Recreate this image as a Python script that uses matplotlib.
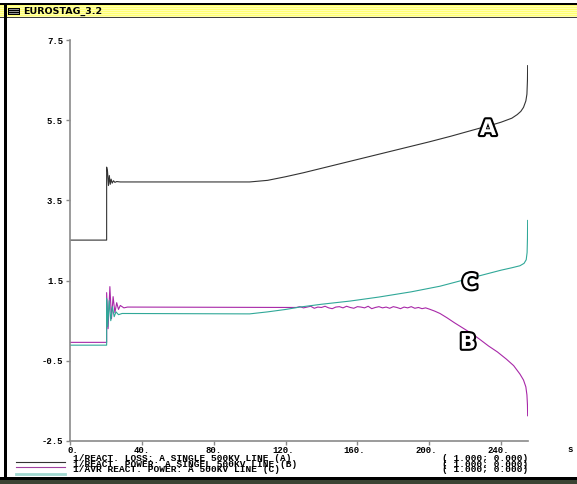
import matplotlib
matplotlib.use("Agg")
import matplotlib.pyplot as plt
import matplotlib.patheffects as pe
from matplotlib.patches import Rectangle
from matplotlib.lines import Line2D

W, H = 577, 485

# reactive loss of the line (A)
t_a = [0, 20.4, 20.4, 20.9, 21.4, 21.9, 22.4, 22.9, 23.5, 24.2, 25.0, 26.0,
       28.0, 100, 110, 120, 130, 140, 150, 160, 170, 180, 190, 200, 206,
       212, 220, 228, 234, 240, 246, 249, 251, 252.5, 253.8, 254.4, 254.7,
       254.8]
v_a = [2.51, 2.51, 4.33, 4.22, 3.87, 4.12, 3.90, 4.03, 3.93, 3.99, 3.95,
       3.97, 3.96, 3.96, 4.00, 4.09, 4.19, 4.30, 4.41, 4.52, 4.63, 4.74,
       4.85, 4.96, 5.03, 5.10, 5.20, 5.30, 5.37, 5.45, 5.55, 5.64, 5.72,
       5.82, 5.98, 6.15, 6.50, 6.86]

# reactive power of the single line (B)
t_b = [0, 20.4, 20.4, 21.2, 22.2, 23.1, 24.0, 25.0, 26.0, 27.0, 28.0, 30.0,
       32.0, 124,
       126, 128, 130, 132, 134, 136, 138, 140, 142, 144, 146, 148, 150, 152,
       154, 156, 158, 160, 162, 164, 166, 168, 170, 172, 174, 176, 178, 180,
       182, 184, 186, 188, 190, 192, 194, 196, 198, 200,
       203, 206, 210, 214, 219, 224, 228, 233, 238, 243, 247, 250.5, 252.5,
       253.8, 254.4, 254.7, 254.8]
v_b = [-0.04, -0.04, 1.20, 0.30, 1.35, 0.55, 1.10, 0.70, 0.95, 0.78, 0.88,
       0.82, 0.84, 0.83,
       0.83, 0.85, 0.82, 0.84, 0.86, 0.81, 0.84, 0.83, 0.86, 0.82, 0.80,
       0.84, 0.85, 0.82, 0.86, 0.83, 0.81, 0.85, 0.84, 0.82, 0.86, 0.80,
       0.83, 0.85, 0.82, 0.84, 0.81, 0.85, 0.83, 0.80, 0.84, 0.82, 0.85,
       0.81, 0.83, 0.80, 0.82, 0.79,
       0.74, 0.68, 0.57, 0.45, 0.31, 0.17, 0.04, -0.13, -0.28, -0.46, -0.62,
       -0.83, -0.98, -1.15, -1.35, -1.60, -1.87]

# AVR reactive power (C)
t_c = [0, 20.4, 20.4, 21.0, 21.8, 22.7, 23.6, 24.6, 25.6, 27.0, 29.0, 100,
       110, 120, 128, 140, 156, 172, 190, 206, 217, 228, 240, 246, 250.5,
       252.8, 254.0, 254.5, 254.7, 254.8]
v_c = [-0.11, -0.11, 1.05, 0.35, 1.00, 0.50, 0.85, 0.60, 0.72, 0.65, 0.68,
       0.67, 0.72, 0.78, 0.84, 0.91, 0.99, 1.09, 1.22, 1.36, 1.49, 1.62,
       1.76, 1.82, 1.87, 1.93, 2.02, 2.20, 2.55, 3.00]

x_ticks = [0, 40, 80, 120, 160, 200, 240]
y_ticks = [7.5, 5.5, 3.5, 1.5, -0.5, -2.5]
legend_texts = ["1/REACT. LOSS: A SINGLE 500KV LINE (A)",
                "1/REACT. POWER: A SINGEL 500KV LINE (B)",
                "1/AVR REACT. POWER: A 500KV LINE (C)"]
legend_scales = ["( 1.000; 0.000)"] * 3
labels = [("A", 232.7, 5.28), ("C", 222.7, 1.44), ("B", 221.6, -0.05)]

col_a, col_b, col_c = "#333333", "#a828a8", "#30a898"
mono = "Liberation Mono"


def fx(px):
    return px / W


def fy(py):
    return 1 - py / H


fig = plt.figure(figsize=(W / 100, H / 100), dpi=100)
fig.patch.set_facecolor("white")

# window frame and title bar
for i in range(6, 18):
    c = "#ffff70" if i % 2 == 0 else "#ffffb0"
    fig.add_artist(Rectangle((0, fy(i + 1)), 1, 1 / H, transform=fig.transFigure,
                             facecolor=c, edgecolor="none"))
fig.add_artist(Rectangle((0, fy(6)), 1, 2 / H, transform=fig.transFigure,
                         facecolor="black", edgecolor="none"))
fig.add_artist(Rectangle((0, fy(18.5)), 1, 1 / H, transform=fig.transFigure,
                         facecolor="#404040", edgecolor="none"))
fig.add_artist(Rectangle((fx(4), fy(481)), 3 / W, 477 / H, transform=fig.transFigure,
                         facecolor="black", edgecolor="none"))
fig.add_artist(Rectangle((0, fy(481)), 1, 3 / H, transform=fig.transFigure,
                         facecolor="black", edgecolor="none"))
fig.add_artist(Rectangle((0, 0), 1, 4 / H, transform=fig.transFigure,
                         facecolor="#3c4434", edgecolor="none"))
fig.add_artist(Rectangle((fx(8), fy(15.5)), 12 / W, 7 / H, transform=fig.transFigure,
                         facecolor="black", edgecolor="none"))
for i in (10, 12, 14):
    fig.add_artist(Rectangle((fx(9), fy(i + 0.6)), 10 / W, 0.6 / H,
                             transform=fig.transFigure, facecolor="#909090",
                             edgecolor="none"))
fig.text(fx(23), fy(11.5), "EUROSTAG_3.2", fontsize=6.8, fontweight="bold",
         family="DejaVu Sans", va="center", ha="left")

ax = fig.add_axes([fx(70), fy(442), (528 - 70) / W, (442 - 41) / H])
ax.set_xlim(0, 255)
ax.set_ylim(-2.5, 7.5)
ax.plot(t_a, v_a, color=col_a, lw=0.8)
ax.plot(t_b, v_b, color=col_b, lw=0.8)
ax.plot(t_c, v_c, color=col_c, lw=0.8)

for s in ("top", "right"):
    ax.spines[s].set_visible(False)
for s in ("left", "bottom"):
    ax.spines[s].set_color("#8a8a8a")
    ax.spines[s].set_linewidth(1.2)
ax.set_xticks(x_ticks)
ax.set_yticks(y_ticks)
ax.set_xticklabels([])
ax.set_yticklabels([])
ax.tick_params(color="#8a8a8a", length=3, width=1)

fs = 6.5
cw = 0.6 * fs
for v in x_ticks:
    s = f"{v}."
    ax.annotate(s, (v, -2.5), xytext=(-(len(s) - 1.5) * cw, -6),
                textcoords="offset points", ha="left", va="center",
                fontsize=fs, family=mono, fontweight="bold")
for v in y_ticks:
    ax.annotate(f"{v:.1f}", (0, v), xytext=(-5, 0), textcoords="offset points",
                ha="right", va="center", fontsize=fs, family=mono,
                fontweight="bold")

for txt, x, y in labels:
    ax.text(x, y, txt, fontsize=15.5, fontweight="bold", family="DejaVu Sans",
            color="white", ha="center", va="center",
            path_effects=[pe.withStroke(linewidth=3, foreground="black")])

fig.text(fx(570), fy(450), "s", fontsize=fs, family=mono, fontweight="bold",
         ha="center", va="center")

# legend rows under the axis, packed as tight as the plotting program does
leg_y = [459.0, 464.5, 470.0]
line_y = [462.7, 467.7, 475.0]
line_c = [col_a, "#a040a0", "#a0d8d0"]
line_w = [0.8, 0.8, 2.0]
for txt, sc, ty, ly, c, lw in zip(legend_texts, legend_scales, leg_y, line_y,
                                  line_c, line_w):
    fig.text(fx(73), fy(ty), txt, fontsize=6.8, family=mono, fontweight="bold",
             ha="left", va="center")
    fig.text(fx(528), fy(ty), sc, fontsize=6.8, family=mono, fontweight="bold",
             ha="right", va="center")
    fig.add_artist(Line2D([fx(16), fx(65)], [fy(ly), fy(ly)], color=c, lw=lw,
                          transform=fig.transFigure))

fig.savefig("out.png", dpi=100)
